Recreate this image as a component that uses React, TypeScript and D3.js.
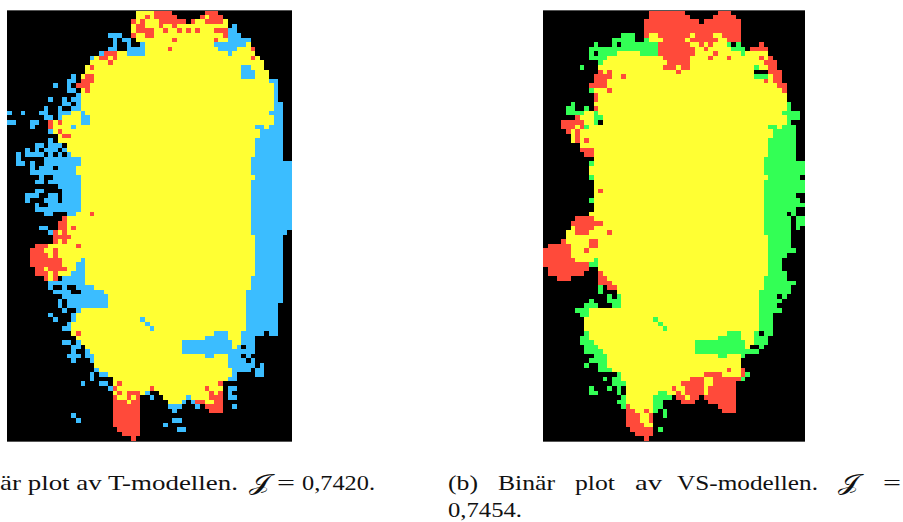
import React from 'react'
import * as d3 from 'd3'

// each row is a list of spans painted in order on black: <class><from>-<to>
// y = both, r = only reference / false neg, b/g = only model
const rowsT = [
  'y28-31 r32-35 r43-45',
  'y28-29 r30 y31 r32-36 r42 y43 r44-46',
  'r27 y28 r29 y30-32 r33-38 r40 y41-42 r43-46 y47',
  'y27 r28-29 y30-32 r33 y34-35 r36 y37-47 b49',
  'y27 r28-31 y32-33 r34 y35-36 r37 y38 r39 y40 r41 y42-44 r45-47 b48-49',
  'b22-24 r27 y28-29 r30-31 y32-46 r47 b48-50',
  'b23 b25-26 y28-47 r36 r45 b48-52',
  'b23 b26 b29 y30-44 b45-51 y52',
  'b22-23 b26-29 y30-45 r35 b46-49 y50-52 r53',
  'b20 r21-23 y24-25 b26-29 y30-47 b48 y49-53',
  'b18 y19 r20-21 y22 r23 y24-52 r53 y54',
  'y18-55 r22',
  'y17-55 r18 b51-52',
  'y17-56 b51-53',
  'b14 y16-56 r17-18 b51-53',
  'b13-14 r16-18 y19-56 b57-58',
  'b10 b13 r15-17 y18-57 b58',
  'b13-14 y16 r17 y18-57 b58',
  'b15 y16-57 b58',
  'b9 b12 b14-15 y16-57 b58',
  'b12-13 b15 y16-57 b58-59',
  'b8 b11 b14-15 y16-57 b58-59',
  'b0 b3 b7-8 b11-13 y14-15 b16 y17-56 b57-59',
  'b8-9 b11 y12-15 b16-17 y18-57 b58-59',
  'b0-1 b5-6 r9 y10 r11 y12-15 b16-17 y18-57 b58-59',
  'b5 r9 y10-13 b14 y15-53 b54-55 y56 b57-59',
  'b9 y10 r11 y12-54 b55-59',
  'y11 r12-13 y14-54 b55-59',
  'b9 y11-53 b54-59',
  'b6-7 b9-11 y13-53 b54-59',
  'b4 b6 b8-10 b12 y13-53 b54-59',
  'b2 b4-7 b9 b11 b13 y14-53 b54-59',
  'b2 b8-15 y16-52 b53-59',
  'b2-3 b5 b8-15 y16-52 b53-61',
  'b5 b7-9 b11-14 y15-52 b53-61',
  'b5-14 y15-52 b53-61',
  'b7 b10-15 y16-53 b54-61',
  'b6-7 b9-15 y16-52 b53-61',
  'b11-15 y16-52 b53-61',
  'b6-7 b12-15 y16-52 b53-61',
  'b4-6 b9-10 b12-15 y16-52 b53-61',
  'b4 b8-10 b12-15 y16-52 b53-61',
  'b6 b9-15 y16-52 b53-61',
  'b6-15 y16-52 b53-61',
  'b8-9 b13-14 y15-52 r18 b53-61',
  'r12 y13-52 b53-61',
  'r11-12 y13-52 b53-61',
  'b7-8 r11-12 y13-52 r14 b53-61',
  'b9 r10 y11 r12 y13-52 b53-60',
  'r10-13 y14-53 b54-59',
  'r10 y11 r12 y13-53 b54-59',
  'r6-8 y9-53 r15 b54-59',
  'r5-7 y8-9 r10 y11-53 b54-59',
  'r5-8 y9 r10 y11-53 b54-59',
  'r5-11 y12-15 b16 y17-53 b54-59',
  'r5-11 y12-14 b15-16 y17-53 b54-59',
  'r6-7 y8 r9-12 y13-14 b15-16 y17-53 b54-59',
  'r6-8 y9 r10 y11-13 b14-16 y17-53 b54-59',
  'r8 y9 r10 b12-16 y17-52 b53-59',
  'b9-16 y17-52 b53-59',
  'b9 b12 b15-18 y19-52 b53-59',
  'b10-13 b16-20 y21-51 b52-59',
  'b12-21 y22-51 b52-59',
  'b11 b13-21 y22-51 b52-59',
  'b11 b13-21 y22-51 b52-58',
  'b12 b15 y16-51 b52-58',
  'b9 b14 y15-51 b52-58',
  'b10 b14 y15-51 b29 b52-58',
  'b13 y14-51 b30 b52-58',
  'b12-13 y14-51 b31 b52-58',
  'y14-50 r15 b45-47 b51-55 b57-58',
  'y15-50 b43-47 b51-53',
  'b12-13 b15 y16-50 b38-48 b51-53',
  'b14-15 y17-49 b38-48 b50 b52-53',
  'b14 b17 y18-47 b38-47 b48-53',
  'b13-15 b17-18 y19-47 b43-44 b48-50 b52',
  'b14 b18 y19-47 b48-51 b53',
  'y19-47 b48-53 b55',
  'b19 y20-48 b49-52 b54-55',
  'b18 b20-21 y22-48 b49 b54-55',
  'b18 y23-47 b48-49',
  'b16 b20-21 y23-46 r24 r46',
  'b22 r23 y24-46 r31 r43 b48-49',
  'y23-28 r24 r26-28 y29 b30 y33-46 r44 r46 b48',
  'r23 y24-25 r26 y27 r28 b31 y34-46 b39 r44-46 b48-49',
  'r23-25 y26 r27-28 y35-37 b38 b40 r41-42 y43-44 r45-46',
  'r23-28 b35-37 b41 r43-46 b49',
  'r23-28 b36 r44-46',
  'b14 r23-28',
  'b15 r23-28 b36-37',
  'r23-28 b34',
  'r24-28 b37-38',
  'r25-28',
  'r27',
]

const rowsVS = [
  'r23-30 r38-40',
  'r23-31 r37-41',
  'r22-33 r35-42',
  'r22-42',
  'r22-42',
  'g17-19 r22 y23-24 r25-31 y32 r33-36 y37-38 r39-42',
  'g15-19 g22 y23-25 r26-30 y31 r32-36 r37 y38-39 r40-42',
  'g11 g15 g17-24 r25-31 y32-33 r34 y35 r36 y37-39 g40 g42 r47',
  'g10-24 r25-32 y33-34 r35 y36-40 g41-43 r45-48',
  'g10 g12-15 y16-20 g21-24 r25-32 y33-36 r37 y38-43 g43 y44-48',
  'g10-13 y14-25 r26-31 y32-47 r36 r40 r47 y48 r49',
  'g12 y13-26 r27-31 y32-47 r48-50',
  'g8 y12-25 r26-28 y29 r30-31 y32-45 g46 y47-48 r49-50',
  'r12 y13 r14 y15-28 r29 y30-45 r49-51',
  'r11-14 y15-16 r17 y18-45 g46-48 y49 r50-51',
  'r11-13 y14-47 r48 y49 r50-51',
  'r10-13 y14-50 r51-52',
  'g10 y11-13 r14 y15-51 r52',
  'r11 y12-52',
  'r11 y12-52',
  'g6 y11-52 g53',
  'g5-6 g9 r11 y12-52 g53',
  'g5-8 y9-10 g11 y12-51 g52-55',
  'r7 y8-10 g11-12 y13-52 g53-55',
  'r4-8 y9-10 g11 y13-52 g53',
  'r4-6 y7 r8 g9 y10-48 g49-50 y51 g52-54',
  'r5 y6 r7 y8-49 g50-54',
  'y6 r7 y8-49 g50-54',
  'y6 r7 y8 r9 y10-48 g49-54',
  'y8-48 g49-54',
  'r8-10 y11-48 g49-54',
  'r9-10 y11-48 g49-54',
  'y11-47 g48-54',
  'g10 y11-47 g48-56',
  'y10-47 g48-56',
  'y10-47 g48-56',
  'g10 y11-48 g49-55',
  'y11-47 g48-56',
  'y11-47 g48-56',
  'y11-47 r12 g48-56',
  'y11-47 g48-54',
  'g10 y11-47 g48-55',
  'y11-47 g48-56',
  'y11-47 g48-54',
  'y10-47 g48-52 g54',
  'r7-10 y11-47 g48-53 g55-56',
  'r6-12 y13-47 g48-53 g55-56',
  'y6 r7-10 y11-47 g48-53 g55',
  'y5-6 r7-9 y10-47 r14 g48-53',
  'y5-48 g49-53',
  'r4 y5-48 r10-11 g49-53',
  'r1-5 y6-48 r10-11 g49-53',
  'r0-5 y6-48 r9 g49-54',
  'r0-5 y6-48 g49-52',
  'r0-6 y7-48 g11 g49-51',
  'r0-9 g10-11 y12-48 g49-51',
  'r1-9 y12-48 g49-51',
  'r1-8 r12 y13-48 g49-52',
  'r3-5 r12-13 y14-47 g48-52',
  'r12-14 y15-47 g48-54',
  'g12 r14-15 y16-47 g48-53',
  'g12 y16-46 g47-53',
  'g14 g16 y17-46 g47-50 g52',
  'g10 g14-16 y17-46 g47-51',
  'g9-11 g15-16 y17-46 g47-50',
  'g7-9 y10-46 g47-51',
  'g8-9 y10-46 g47-49',
  'y9-46 g24 g47-49',
  'y9-46 g25 g47-49',
  'y9-46 g26 g47-49',
  'g9 y10-45 g40-42 g46 g48-49',
  'g8-9 y10-45 g38-42 g46-48',
  'g8-10 y11-45 g33-43 g46-48',
  'g9-11 y12-44 g33-43 g47',
  'g9-12 y13-43 g33-46',
  'g11-13 y14-42 g38-39 g43',
  'g10-13 y14-42',
  'g9 g12-13 y14-42',
  'g12-14 y15-42 r40 r43',
  'g16 y17-42 r35-38 r43 g44',
  'g13 g15-16 y17-31 r32-34 y35 y36 r37-42 g43',
  'g15-17 y18-29 r30-34 y35-36 r37-41',
  'g10 g14 g16 y18-27 r28 y29-30 r31-34 y35 r36-41',
  'g10-11 g16 y18-24 g25-26 y27-28 r29 y30 r31-34 y35 r36-41',
  'g17 y18-23 g24-27 r29-30 y31 r32-33 r35-41',
  'g16-17 y18-23 g24-25 r30-32 r36-41',
  'g17 r18 y19-23 g24-25 r38-41',
  'r18-19 y20-21 r22 y23 g24 g26 r39-41',
  'r18-20 y21-22 r23 g26',
  'r18-20 y21-22 r23',
  'r18-21 y22 r23 y23',
  'r19-23 g25',
  'r20-23',
  'r22',
]

const classes = ['y', 'r', 'b', 'g']
const classColors = ['#ffff33', '#ff4a3a', '#3bbdff', '#33ff55']

const colorOf = d3.scaleOrdinal<string, string>().domain(classes).range(classColors)

const parseRows = (rows: string[]) =>
  rows.flatMap((row, r) =>
    row.split(' ').map((s) => {
      const [from, to] = s.slice(1).split('-').map(Number)
      return { r, c: s[0], from, to: to === undefined ? from : to }
    })
  )

const Panel = ({ rows, cols, left, width }: { rows: string[]; cols: number; left: number; width: number }) => {
  const x = d3.scaleBand<number>().domain(d3.range(cols)).range([left, left + width])
  const y = d3.scaleBand<number>().domain(d3.range(rows.length)).range([10, 441])
  return (
    <g shapeRendering="crispEdges">
      <rect x={left} y={10} width={width} height={431} fill="#000" />
      {parseRows(rows).map((d, i) => (
        <rect
          key={i}
          x={x(d.from)}
          y={y(d.r)}
          width={(x(d.to) as number) + x.bandwidth() - (x(d.from) as number)}
          height={y.bandwidth()}
          fill={colorOf(d.c)}
        />
      ))}
      <line x1={left} x2={left + width} y1={10} y2={10} stroke="#555" />
      <line x1={left} x2={left + width} y1={441} y2={441} stroke="#555" />
    </g>
  )
}

const J = '\u{1D4A5}'

// caption pieces: text, x, baseline, fitted width
const captionWords: [string, number, number, number][] = [
  ['är plot av T-modellen.', 0, 489.5, 238],
  ['=', 277, 489.5, 18],
  ['0,7420.', 302, 489.5, 73],
  ['(b)', 448, 489.5, 30],
  ['Binär', 498, 489.5, 57],
  ['plot', 575, 489.5, 40],
  ['av', 635, 489.5, 27],
  ['VS-modellen.', 677, 489.5, 141],
  ['=', 883, 489.5, 18],
  ['0,7454.', 448, 517, 74],
]
const scriptJ: [number, number][] = [[249, 489.5], [838, 489.5]]

const App = () => (
  <svg
    width={903}
    height={522}
    style={{ position: 'absolute', left: 0, top: 0, background: '#fff' }}
  >
    <Panel rows={rowsT} cols={62} left={7} width={285} />
    <Panel rows={rowsVS} cols={57} left={543} width={262} />
    <g fontFamily='"Liberation Serif", serif' fontSize={22} fill="#111">
      {captionWords.map(([s, x, y, w]) => (
        <text key={s + x} x={x} y={y} textLength={w} lengthAdjust="spacingAndGlyphs">{s}</text>
      ))}
      {scriptJ.map(([x, y]) => (
        <text key={x} x={x} y={y} textLength={21} lengthAdjust="spacingAndGlyphs">{J}</text>
      ))}
    </g>
  </svg>
)

export default App
